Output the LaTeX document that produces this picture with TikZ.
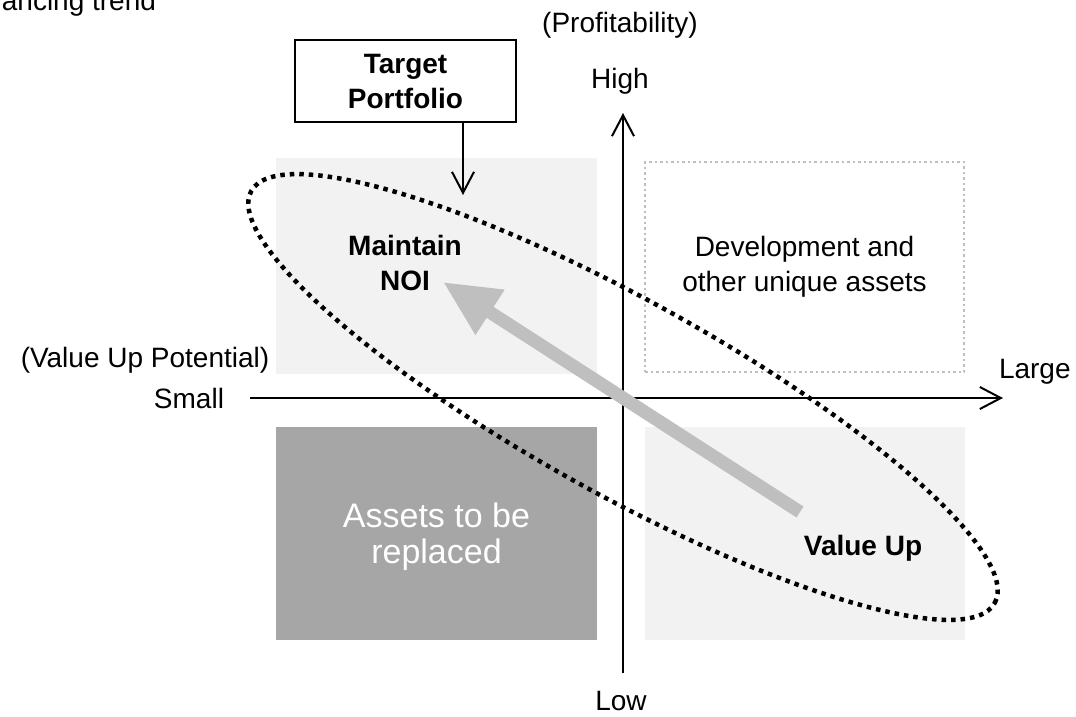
\documentclass[tikz,border=0pt]{standalone}
\usepackage{fontspec}
\setmainfont{Liberation Sans}
\usetikzlibrary{arrows.meta,positioning}

\definecolor{panel}{HTML}{F2F2F2}
\definecolor{panelDark}{HTML}{A6A6A6}
\definecolor{trendGray}{HTML}{BFBFBF}
\newcommand{\bodysize}{\fontsize{28}{35}\selectfont}

\begin{document}
\begin{tikzpicture}[
    x = 1pt, y = -1pt, % 1pt grid, y runs downwards
    > = {Straight Barb[length=21pt,width=22pt,line width=2pt]}, % open arrow heads
    font = \bodysize,
    inner sep = 0pt,
    line width = 2pt
    ]

    \tikzset{
    quad/.style = {rectangle, outer sep = 0pt, anchor = north west},
    label/.style = {align = center},
    bold/.style = {font = \bodysize\bfseries},
    ring/.style = {line width = 4.5pt, dash pattern = on 4.5pt off 5pt},
    trend/.style = {trendGray, line width = 13pt, -{Triangle[length=56pt,width=50pt]}}
    }

    \useasboundingbox (0,0) rectangle (1076,716);
    \clip (0,0) rectangle (1076,716);

    % quadrants
    \node[quad, fill=panel, minimum width=321pt, minimum height=216pt] (noiBox) at (276,158) {};
    \node[quad, draw=trendGray, line width=2.5pt, dash pattern=on 2.5pt off 3pt,
          minimum width=319pt, minimum height=210pt] (devBox) at (645,162) {};
    \node[quad, fill=panelDark, minimum width=321pt, minimum height=213pt] (oldBox) at (276,427) {};
    \node[quad, fill=panel, minimum width=320pt, minimum height=213pt] (upBox) at (645,427) {};

    \node[label] (dev) at (devBox.center) {Development and\\other unique assets};
    \node[label, white, font=\fontsize{34}{36}\selectfont] (old) at ([yshift=-3pt]oldBox.center) {Assets to be\\replaced};
    \node[label, bold] (noi) at (405,263) {Maintain\\NOI};
    \node[bold, anchor=base] (vu) at (863,555) {Value Up};

    % axes
    \coordinate (xl) at (250,398);
    \coordinate (xr) at (1003,398);
    \coordinate (yb) at (623,673);
    \coordinate (yt) at (623,113);
    \draw[->] (xl) -- (xr);
    \draw[->] (yb) -- (yt);

    \node[left=25pt of xl] (small) {Small};
    \node[anchor=base] (potential) at (145,367) {(Value Up Potential)};
    \node[anchor=base west] (large) at (998,378) {Large};
    \node[anchor=base] (high) at (620,88) {High};
    \node[anchor=base] (prof) at (620,32) {(Profitability)};
    \node[anchor=base] (low) at (621,710) {Low};
    \node[anchor=base east] (title) at (157,10) {ancing trend};

    % shift towards the target
    \coordinate (trendStart) at (800,512);
    \coordinate (trendEnd) at (443,282);
    \draw[trend] (trendStart) -- (trendEnd);

    % target group
    \coordinate (c) at (623,397);
    \draw[ring, rotate around={-29:(c)}] (c) ellipse [x radius=425pt, y radius=97pt];

    \node[label, bold, draw, line width=1.5pt, minimum width=221pt, minimum height=82pt] (target) at (405.5,81) {Target\\Portfolio};
    \coordinate (tp) at (463,195);
    \draw[->] (target.south -| tp) -- (tp);
\end{tikzpicture}
\end{document}
